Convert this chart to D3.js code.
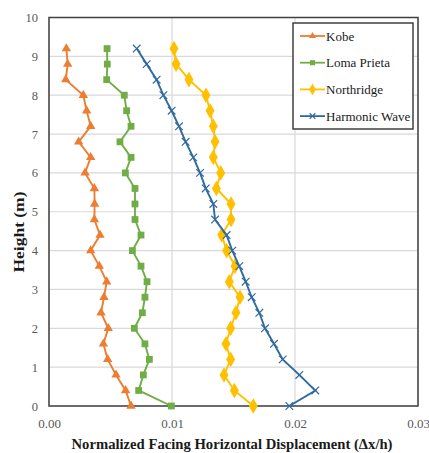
<!DOCTYPE html>
<html><head><meta charset="utf-8">
<script src="https://cdn.jsdelivr.net/npm/d3@7"></script>
<style>body{margin:0;background:#fff}</style>
</head><body><svg id="c" width="429" height="453"></svg>
<script>
const heights = [0,0.4,0.8,1.2,1.6,2.0,2.4,2.8,3.2,3.6,4.0,4.4,4.8,5.2,5.6,6.0,6.4,6.8,7.2,7.6,8.0,8.4,8.8,9.2];
const kobe = [0.00667,0.00623,0.00545,0.00477,0.00442,0.00482,0.00423,0.00447,0.00469,0.00409,0.00339,0.00415,0.00369,0.00371,0.00369,0.00293,0.00339,0.00241,0.00339,0.00306,0.00279,0.00136,0.00152,0.00141];
const lomaPrieta = [0.00995,0.00729,0.00767,0.00816,0.00780,0.00694,0.00759,0.00780,0.00797,0.00748,0.00678,0.00748,0.00699,0.00699,0.00699,0.00621,0.00667,0.00577,0.00667,0.00631,0.00612,0.00469,0.00474,0.00472];
const northridge = [0.01661,0.01507,0.01423,0.01477,0.01439,0.01477,0.01520,0.01553,0.01466,0.01512,0.01444,0.01404,0.01480,0.01480,0.01361,0.01396,0.01336,0.01350,0.01336,0.01309,0.01276,0.01138,0.01033,0.01016];
const harmonic = [0.01954,0.02165,0.02035,0.01900,0.01829,0.01756,0.01710,0.01648,0.01599,0.01547,0.01490,0.01444,0.01350,0.01336,0.01274,0.01228,0.01173,0.01111,0.01057,0.00997,0.00930,0.00875,0.00794,0.00713];
const xTicks = [0,0.01,0.02,0.03];
const xTickLabels = ["0.00","0.01","0.02","0.03"];
const yTicks = [0,1,2,3,4,5,6,7,8,9,10];
const seriesNames = ["Kobe","Loma Prieta","Northridge","Harmonic Wave"];
const seriesColors = ["#ED7D31","#70AD47","#FFC000","#2F6A9F"];
const seriesMarkers = ["triangle","square","diamond","x"];
const seriesData = [kobe, lomaPrieta, northridge, harmonic];

const svg = d3.select("#c");
const L=49, R=418, T=17.5, B=406;
const x = d3.scaleLinear().domain([0,0.03]).range([L,R]);
const y = d3.scaleLinear().domain([0,10]).range([B,T]);
const FONT = '"Liberation Serif"';

// gridlines
svg.append("g").selectAll("line.h").data(yTicks).join("line")
  .attr("x1",L).attr("x2",R).attr("y1",d=>y(d)).attr("y2",d=>y(d))
  .attr("stroke","#d9d9d9").attr("stroke-width",1.2);
svg.append("g").selectAll("line.v").data(xTicks).join("line")
  .attr("y1",T).attr("y2",B).attr("x1",d=>x(d)).attr("x2",d=>x(d))
  .attr("stroke","#d9d9d9").attr("stroke-width",1.2);

// frame
svg.append("rect").attr("x",L).attr("y",T).attr("width",R-L).attr("height",B-T)
  .attr("fill","none").attr("stroke","#404040").attr("stroke-width",1.5);

// axes (labels only)
const xAxis = d3.axisBottom(x).tickValues(xTicks).tickFormat((d,i)=>xTickLabels[i]).tickSize(0).tickPadding(13);
const gx = svg.append("g").attr("transform",`translate(0,${B})`).call(xAxis);
gx.select(".domain").remove();
gx.selectAll("text").style("font-family",FONT).style("font-size","13px").attr("fill","#595959");
const yAxis = d3.axisLeft(y).tickValues(yTicks).tickSize(0).tickPadding(11);
const gy = svg.append("g").attr("transform",`translate(${L},0)`).call(yAxis);
gy.select(".domain").remove();
gy.selectAll("text").style("font-family",FONT).style("font-size","12.5px").attr("fill","#595959");

// axis titles
svg.append("text").attr("x",232).attr("y",449).attr("text-anchor","middle")
  .attr("textLength",321).attr("lengthAdjust","spacingAndGlyphs")
  .style("font-family",FONT).style("font-weight","bold").style("font-size","15px").attr("fill","#1a1a1a")
  .text("Normalized Facing Horizontal Displacement (Δx/h)");
svg.append("text").attr("transform",`translate(24,232) rotate(-90)`).attr("text-anchor","middle")
  .attr("textLength",81).attr("lengthAdjust","spacingAndGlyphs")
  .style("font-family",FONT).style("font-weight","bold").style("font-size","15px").attr("fill","#1a1a1a")
  .text("Height (m)");

function drawMarker(g, type, color, cx, cy, s){
  s = s || 1;
  if(type==="triangle"){
    g.append("path").attr("d",d3.symbol(d3.symbolTriangle,38*s*s)()).attr("transform",`translate(${cx},${cy})`).attr("fill",color);
  } else if(type==="square"){
    const h=3.4*s;
    g.append("rect").attr("x",cx-h).attr("y",cy-h).attr("width",2*h).attr("height",2*h).attr("fill",color);
  } else if(type==="diamond"){
    g.append("path").attr("d",d3.symbol(d3.symbolDiamond,70*s*s)()).attr("transform",`translate(${cx},${cy})`).attr("fill",color);
  } else {
    const h=3.8*s;
    g.append("path").attr("d",`M${cx-h},${cy-h}L${cx+h},${cy+h}M${cx-h},${cy+h}L${cx+h},${cy-h}`)
      .attr("stroke",color).attr("stroke-width",1.2);
  }
}

const line = d3.line().x(d=>x(d[0])).y(d=>y(d[1]));
seriesData.forEach((vals,si)=>{
  const pts = vals.map((v,i)=>[v,heights[i]]);
  const g = svg.append("g");
  g.append("path").datum(pts).attr("d",line).attr("fill","none")
    .attr("stroke",seriesColors[si]).attr("stroke-width",1.9);
  pts.forEach(p=>drawMarker(g,seriesMarkers[si],seriesColors[si],x(p[0]),y(p[1])));
});

// legend
const lg = svg.append("g");
lg.append("rect").attr("x",293).attr("y",23).attr("width",120).attr("height",106)
  .attr("fill","#fff").attr("stroke","#404040").attr("stroke-width",1.5);
seriesNames.forEach((n,i)=>{
  const ly = 36 + i*26.7;
  lg.append("line").attr("x1",300).attr("x2",325).attr("y1",ly).attr("y2",ly)
    .attr("stroke",seriesColors[i]).attr("stroke-width",1.8);
  drawMarker(lg,seriesMarkers[i],seriesColors[i],312.5,ly,0.75);
  lg.append("text").attr("x",326).attr("y",ly+4.5).style("font-family",FONT).style("font-size","13px")
    .attr("fill","#1a1a1a").text(n);
});
</script></body></html>
